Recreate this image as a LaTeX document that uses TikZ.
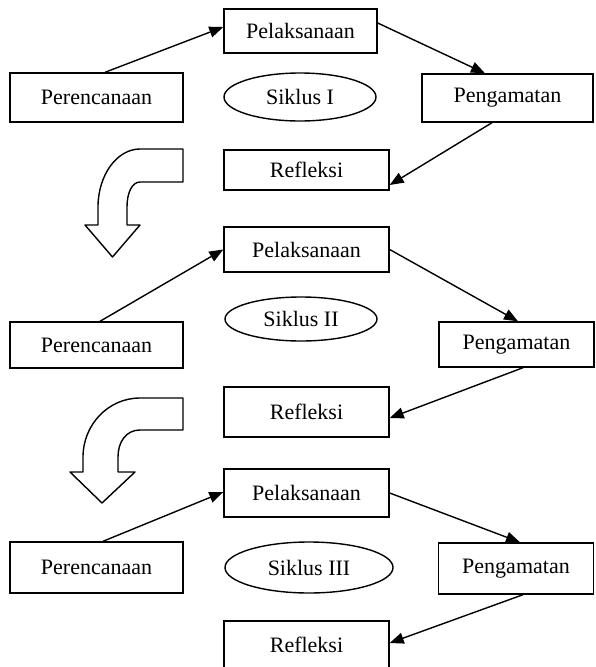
\documentclass[tikz,border=0pt]{standalone}
\usepackage{fontspec}
\setmainfont{Liberation Serif}
\usepackage{tikz}
\usetikzlibrary{arrows.meta, shapes.geometric}

\begin{document}
\begin{tikzpicture}[x=1pt, y=-1pt,
    every node/.style = {font=\fontsize{22}{26}\selectfont, inner sep=0pt},
    stage/.style      = {draw, line width=1.4pt, rectangle},
    cycle/.style      = {draw, line width=1.4pt, ellipse},
    flow/.style       = {line width=1.4pt, -{Triangle[length=14pt,width=11pt]}},
    turn/.style       = {draw, line width=1.4pt, fill=white, line join=round}
  ]
  \useasboundingbox (0,0) rectangle (595,667);

  % Siklus I
  \node[stage, minimum width=173pt, minimum height=49pt] (plan1) at (96.5,97.5) {Perencanaan};
  \node[stage, minimum width=153pt, minimum height=44pt] (act1)  at (300.5,31) {Pelaksanaan};
  \node[cycle, minimum width=152pt, minimum height=48pt] (cyc1)  at (300,97) {Siklus I};
  \node[stage, minimum width=171pt, minimum height=48pt] (obs1)  at (507.5,98) {Pengamatan};
  \node[stage, minimum width=165pt, minimum height=40pt] (refl1) at (306.5,170) {Refleksi};
  \draw[flow] ([xshift=8.5pt]plan1.north) -- ([yshift=4pt]act1.west);
  \draw[flow] ([yshift=8pt]act1.east) -- ([xshift=-22.5pt]obs1.north);
  \draw[flow] ([xshift=-15.5pt]obs1.south) -- ([yshift=-15pt]refl1.east);

  % Siklus II
  \node[stage, minimum width=173pt, minimum height=46pt] (plan2) at (96.5,345) {Perencanaan};
  \node[stage, minimum width=165pt, minimum height=45pt] (act2)  at (306.5,249.5) {Pelaksanaan};
  \node[cycle, minimum width=152pt, minimum height=44pt] (cyc2)  at (301,319) {Siklus II};
  \node[stage, minimum width=155pt, minimum height=45pt] (obs2)  at (516.5,344.5) {Pengamatan};
  \node[stage, minimum width=165pt, minimum height=50pt] (refl2) at (306.5,412) {Refleksi};
  \draw[flow] ([xshift=3.5pt]plan2.north) -- (act2.west);
  \draw[flow] (act2.east) -- ([xshift=1.5pt]obs2.north);
  \draw[flow] ([xshift=6.5pt]obs2.south) -- ([yshift=-6pt]refl2.east);

  % Siklus III
  \node[stage, minimum width=173pt, minimum height=51pt] (plan3) at (96.5,567.5) {Perencanaan};
  \node[stage, minimum width=165pt, minimum height=48pt] (act3)  at (306.5,493) {Pelaksanaan};
  \node[cycle, minimum width=168pt, minimum height=51pt] (cyc3)  at (309,567.5) {Siklus III};
  \node[stage, minimum width=155pt, minimum height=51pt] (obs3)  at (516,568.5) {Pengamatan};
  \node[stage, minimum width=165pt, minimum height=48pt] (refl3) at (306.5,645) {Refleksi};
  \draw[flow] ([xshift=6.5pt]plan3.north) -- ([yshift=1pt]act3.west);
  \draw[flow] (act3.east) -- ([xshift=4pt]obs3.north);
  \draw[flow] ([xshift=7pt]obs3.south) -- ([yshift=2pt]refl3.east);

  % bent arrows between the cycles
  \draw[turn] (183,149) -- (140,149) .. controls (117,149) and (98,175) .. (98,207)
    -- (98,225) -- (85,225) -- (112.5,257) -- (140,225) -- (127,225) -- (127,207)
    .. controls (127,193) and (132,182) .. (140,182) -- (183,182) -- cycle;
  \draw[turn] (183,398) -- (140,398) .. controls (108,398) and (83,425) .. (83,457)
    -- (83,472) -- (70,472) -- (102,503) -- (135,472) -- (118,472) -- (118,457)
    .. controls (118,442) and (126,430) .. (140,430) -- (183,430) -- cycle;
\end{tikzpicture}
\end{document}
